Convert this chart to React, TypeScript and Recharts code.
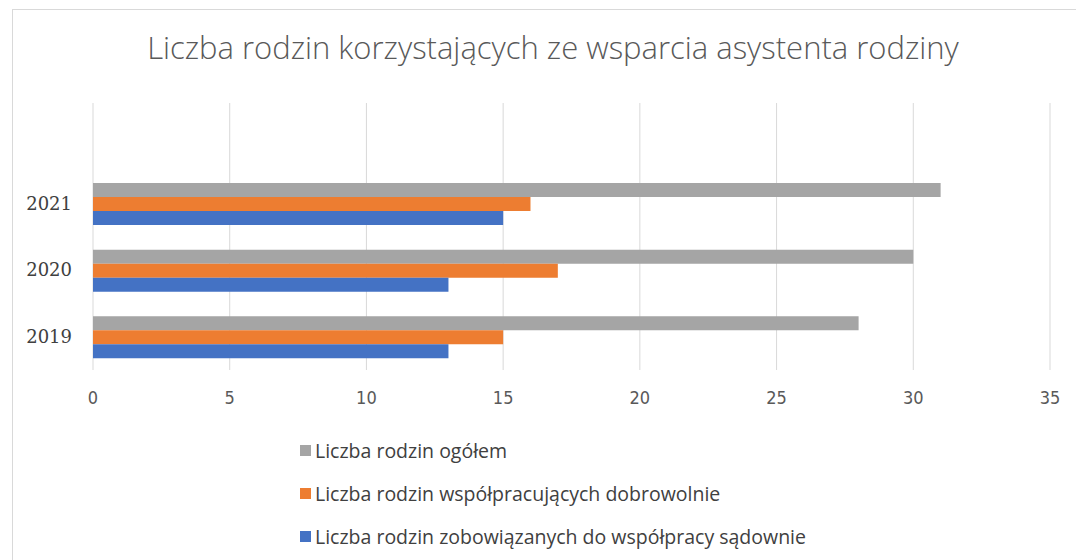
import React from 'react';
import { BarChart, Bar, XAxis, YAxis, CartesianGrid } from 'recharts';

const years = ['2021', '2020', '2019'];
const totalFamilies = [31, 30, 28];
const voluntaryFamilies = [16, 17, 15];
const courtFamilies = [15, 13, 13];
const xTicks = [0, 5, 10, 15, 20, 25, 30, 35];

const series = [
  { key: 'total', name: 'Liczba rodzin ogółem', color: '#a5a5a5' },
  { key: 'voluntary', name: 'Liczba rodzin współpracujących dobrowolnie', color: '#ed7d31' },
  { key: 'court', name: 'Liczba rodzin zobowiązanych do współpracy sądownie', color: '#4472c4' },
];

const data = years.map((year, i) => ({
  year,
  total: totalFamilies[i],
  voluntary: voluntaryFamilies[i],
  court: courtFamilies[i],
}));

export default function App() {
  return (
    <div style={{ position: 'absolute', left: 0, top: 0, width: 1076, height: 560, background: '#fff', overflow: 'hidden' }}>
      {/* chart frame */}
      <div style={{ position: 'absolute', left: 12, top: 9, width: 1080, height: 600, border: '1px solid #d9d9d9' }} />

      <div
        style={{
          position: 'absolute', left: 0, top: 25, width: 1106, textAlign: 'center', lineHeight: '44px',
          fontFamily: '"Open Sans", sans-serif', fontWeight: 300, fontSize: 31, color: '#595959',
        }}
      >
        Liczba rodzin korzystających ze wsparcia asystenta rodziny
      </div>

      <div style={{ position: 'absolute', left: 0, top: 0 }}>
        <BarChart
          width={1076}
          height={560}
          data={data}
          layout="vertical"
          margin={{ top: 103, right: 26, bottom: 160, left: 33 }}
          barCategoryGap={13}
          barGap={0}
        >
          <CartesianGrid horizontal={false} stroke="#d9d9d9" />
          <XAxis
            type="number"
            domain={[0, 35]}
            ticks={xTicks}
            axisLine={false}
            tickLine={false}
            height={30}
            tickMargin={15}
            tick={{ fill: '#595959', fontSize: 18, fontFamily: '"Liberation Sans Narrow", "DejaVu Sans Condensed", sans-serif' }}
          />
          <YAxis
            type="category"
            dataKey="year"
            width={60}
            padding={{ top: 67, bottom: 0 }}
            axisLine={false}
            tickLine={false}
            tickMargin={15}
            tick={{ fill: '#404040', fontSize: 18, fontFamily: '"DejaVu Serif", serif' }}
          />
          {series.map((s) => (
            <Bar key={s.key} dataKey={s.key} name={s.name} fill={s.color} isAnimationActive={false} />
          ))}
        </BarChart>
      </div>

      {/* legend */}
      <div style={{ position: 'absolute', left: 300, top: 429 }}>
        {series.map((s) => (
          <div
            key={s.key}
            style={{
              display: 'flex', alignItems: 'center', height: 43,
              fontFamily: '"Open Sans", sans-serif', fontSize: 19.5, color: '#404040',
            }}
          >
            <span style={{ width: 11, height: 11, background: s.color, marginRight: 4, flex: 'none' }} />
            <span style={{ lineHeight: '24px', whiteSpace: 'nowrap' }}>{s.name}</span>
          </div>
        ))}
      </div>
    </div>
  );
}
